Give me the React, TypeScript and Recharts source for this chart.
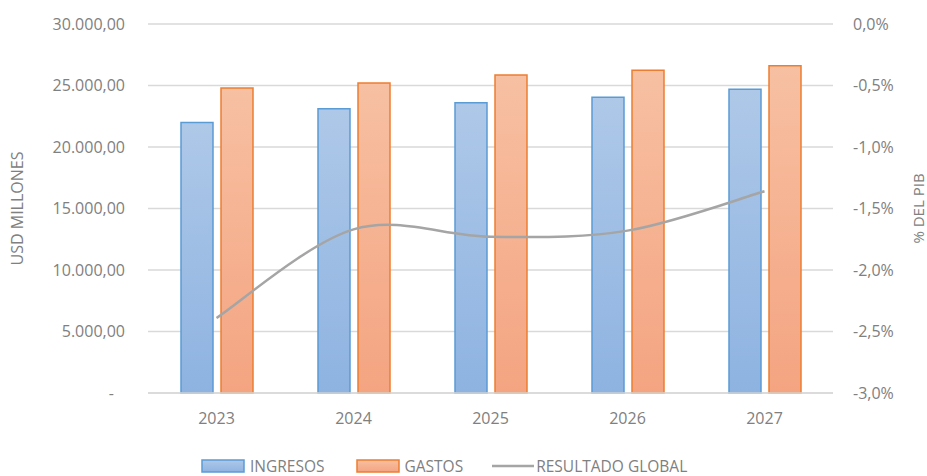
import { ComposedChart, Bar, Line, XAxis, YAxis, CartesianGrid, Label } from 'recharts'

// values
const years = ['2023', '2024', '2025', '2026', '2027']
const ingresos = [22000, 23100, 23600, 24050, 24700]
const gastos = [24800, 25200, 25850, 26250, 26600]
const resultadoGlobal = [-2.39, -1.67, -1.73, -1.68, -1.36]

const leftTicks = [0, 5000, 10000, 15000, 20000, 25000, 30000]
const rightTicks = [-3, -2.5, -2, -1.5, -1, -0.5, 0]

const seriesNames = { ingresos: 'INGRESOS', gastos: 'GASTOS', resultado: 'RESULTADO GLOBAL' }

const data = years.map((year, i) => ({
  year,
  ingresos: ingresos[i],
  gastos: gastos[i],
  resultado: resultadoGlobal[i],
}))

const FONT = '"Open Sans", sans-serif'
const TEXT = '#808080'
const GRID = '#d9d9d9'

// 30.000,00 style (thousands with dots, decimals with comma)
function formatUsd(v: number) {
  const [int, dec] = v.toFixed(2).split('.')
  return int.replace(/\B(?=(\d{3})+(?!\d))/g, '.') + ',' + dec
}

function formatPct(v: number) {
  return v.toFixed(1).replace('.', ',') + '%'
}

// Excel-like smoothed line: cubic bezier through every point, control points at 1/6 of neighbours
const excelSmooth = (context: any) => {
  let pts: [number, number][] = []
  return {
    areaStart() {},
    areaEnd() {},
    lineStart() {
      pts = []
    },
    point(x: number, y: number) {
      pts.push([+x, +y])
    },
    lineEnd() {
      if (pts.length === 0) return
      context.moveTo(pts[0][0], pts[0][1])
      for (let i = 0; i < pts.length - 1; i++) {
        const p0 = pts[i - 1] ?? pts[i]
        const p1 = pts[i]
        const p2 = pts[i + 1]
        const p3 = pts[i + 2] ?? p2
        context.bezierCurveTo(
          p1[0] + (p2[0] - p0[0]) / 6,
          p1[1] + (p2[1] - p0[1]) / 6,
          p2[0] - (p3[0] - p1[0]) / 6,
          p2[1] - (p3[1] - p1[1]) / 6,
          p2[0],
          p2[1],
        )
      }
    },
  }
}

function LeftTick({ x, y, payload }: any) {
  const zero = payload.value === 0
  return (
    <text x={zero ? x - 11 : x} y={y} dy="0.35em" textAnchor="end" fill={TEXT} fontSize={16} fontFamily={FONT}>
      {zero ? '-' : formatUsd(payload.value)}
    </text>
  )
}

function Swatch({ id }: { id: string }) {
  return (
    <svg width={44} height={14} style={{ display: 'block' }}>
      <rect x={1} y={1} width={42} height={12} fill={`url(#${id})`} stroke={id === 'gIng' ? '#5b9bd5' : '#ed7d31'} strokeWidth={1.5} />
    </svg>
  )
}

function ChartLegend() {
  const text = { fontFamily: FONT, fontSize: 15.5, color: TEXT, lineHeight: '14px' }
  return (
    <div style={{ position: 'absolute', left: 201, top: 459, height: 14, display: 'flex', alignItems: 'center' }}>
      <Swatch id="gIng" />
      <span style={{ ...text, marginLeft: 5, marginRight: 31 }}>{seriesNames.ingresos}</span>
      <Swatch id="gGas" />
      <span style={{ ...text, marginLeft: 5, marginRight: 29 }}>{seriesNames.gastos}</span>
      <svg width={42} height={14} style={{ display: 'block' }}>
        <line x1={0} y1={7} x2={42} y2={7} stroke="#a5a5a5" strokeWidth={2.5} />
      </svg>
      <span style={{ ...text, marginLeft: 2 }}>{seriesNames.resultado}</span>
    </div>
  )
}

export default function App() {
  return (
    <div style={{ position: 'relative', width: 927, height: 476, background: '#fff', overflow: 'hidden' }}>
      <style>{'body{margin:0}'}</style>
      <ComposedChart width={927} height={476} data={data} margin={{ top: 24, right: 0, bottom: 0, left: 0 }} barGap={8}>
        <defs>
          <linearGradient id="gIng" x1="0" y1="0" x2="0" y2="1">
            <stop offset="0%" stopColor="#aec8e8" />
            <stop offset="100%" stopColor="#8eb3e1" />
          </linearGradient>
          <linearGradient id="gGas" x1="0" y1="0" x2="0" y2="1">
            <stop offset="0%" stopColor="#f7c0a2" />
            <stop offset="100%" stopColor="#f4a481" />
          </linearGradient>
        </defs>

        <CartesianGrid yAxisId="usd" vertical={false} stroke={GRID} strokeWidth={1.5} />

        <XAxis
          dataKey="year"
          height={83}
          tickLine={false}
          axisLine={{ stroke: GRID, strokeWidth: 1.5 }}
          tickMargin={14}
          tick={{ fill: TEXT, fontSize: 16, fontFamily: FONT }}
        />

        <YAxis
          yAxisId="usd"
          width={148}
          domain={[0, 30000]}
          ticks={leftTicks}
          interval={0}
          tickLine={false}
          axisLine={false}
          tickMargin={17}
          tick={<LeftTick />}
        >
          <Label
            content={({ viewBox }: any) => {
              const cx = viewBox.x + 17
              const cy = viewBox.y + viewBox.height / 2
              return (
                <text x={cx} y={cy} transform={`rotate(-90 ${cx} ${cy})`} textAnchor="middle" dominantBaseline="central" fill={TEXT} fontSize={16} fontFamily={FONT}>
                  USD MILLONES
                </text>
              )
            }}
          />
        </YAxis>

        <YAxis
          yAxisId="pct"
          orientation="right"
          width={94}
          domain={[-3, 0]}
          ticks={rightTicks}
          interval={0}
          tickLine={false}
          axisLine={false}
          tickMargin={14}
          tickFormatter={formatPct}
          tick={{ fill: TEXT, fontSize: 16, fontFamily: FONT, textAnchor: 'start' }}
        >
          <Label
            content={({ viewBox }: any) => {
              const cx = viewBox.x + 85
              const cy = viewBox.y + viewBox.height / 2
              return (
                <text x={cx} y={cy} transform={`rotate(-90 ${cx} ${cy})`} textAnchor="middle" dominantBaseline="central" fill={TEXT} fontSize={15} fontFamily={FONT}>
                  % DEL PIB
                </text>
              )
            }}
          />
        </YAxis>

        <Bar yAxisId="usd" dataKey="ingresos" name={seriesNames.ingresos} barSize={32} fill="url(#gIng)" stroke="#5b9bd5" strokeWidth={1.5} isAnimationActive={false} />
        <Bar yAxisId="usd" dataKey="gastos" name={seriesNames.gastos} barSize={32} fill="url(#gGas)" stroke="#ed7d31" strokeWidth={1.5} isAnimationActive={false} />
        <Line yAxisId="pct" dataKey="resultado" name={seriesNames.resultado} type={excelSmooth as any} stroke="#a5a5a5" strokeWidth={2.5} dot={false} activeDot={false} isAnimationActive={false} />
      </ComposedChart>
      <ChartLegend />
    </div>
  )
}
